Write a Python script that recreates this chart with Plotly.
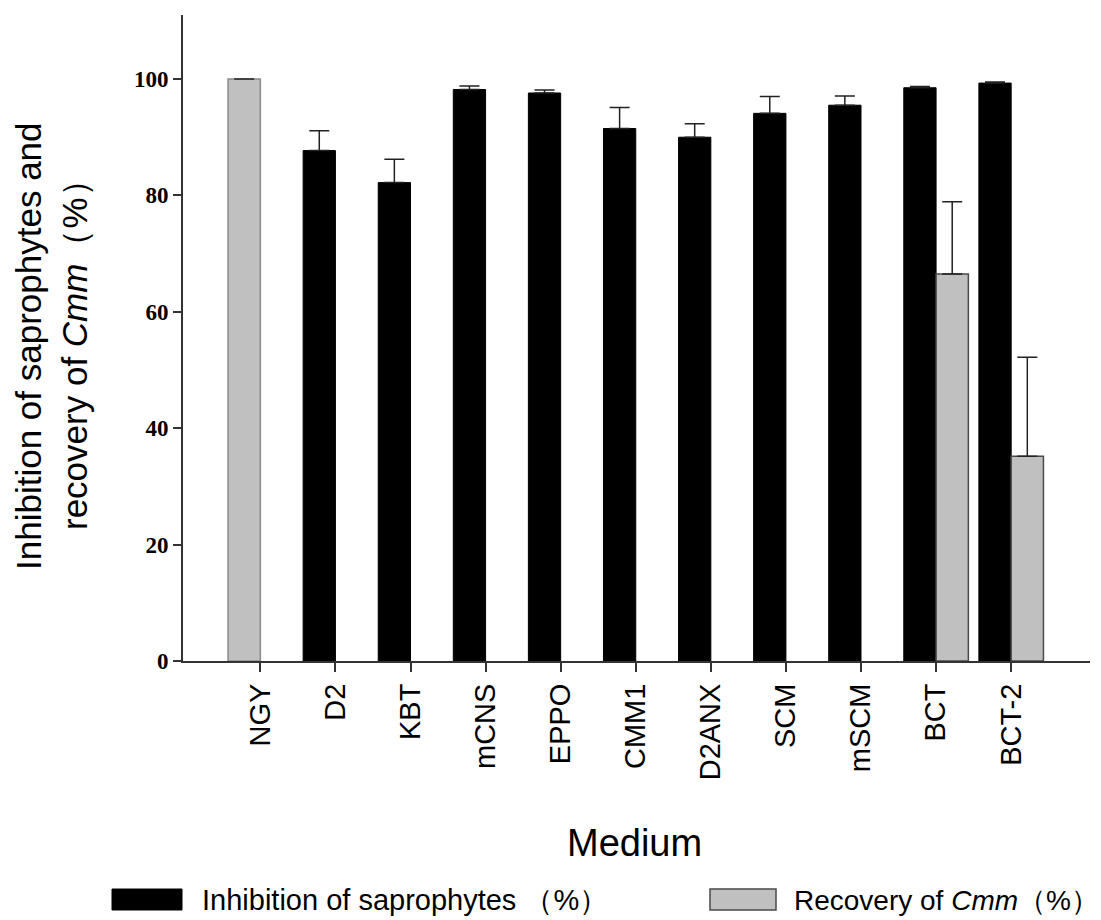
import plotly.graph_objects as go

categories = ["NGY", "D2", "KBT", "mCNS", "EPPO", "CMM1", "D2ANX", "SCM", "mSCM", "BCT", "BCT-2"]
inhibition = [None, 87.7, 82.2, 98.2, 97.6, 91.5, 90.0, 94.1, 95.5, 98.5, 99.3]
inhibition_err = [0, 3.4, 4.0, 0.6, 0.5, 3.6, 2.3, 2.9, 1.6, 0.2, 0.2]
recovery = [100, None, None, None, None, None, None, None, None, 66.5, 35.2]
recovery_err = [0, 0, 0, 0, 0, 0, 0, 0, 0, 12.4, 17.0]
y_ticks = [0, 20, 40, 60, 80, 100]

BW = 0.43
OFF = 8  # page body margin
W, H = 1101, 920
# plot area in page pixels
AX_L, AX_R, AX_T, AX_B = 183, 1090, 15, 661
L, R = AX_L - OFF, W - (AX_R - OFF)
T, B = AX_T - OFF, H - (AX_B - OFF)
PW, PH = W - L - R, H - T - B

def px(x):
    return (x - OFF - L) / PW

def py(y):
    return (H - B - (y - OFF)) / PH

fig = go.Figure()
fig.add_trace(go.Bar(
    x=categories, y=inhibition, width=[BW] * len(categories), offset=[-BW] * len(categories),
    marker=dict(color="black", line=dict(color="black", width=1)),
    error_y=dict(type="data", array=inhibition_err, arrayminus=[0] * len(categories), symmetric=False,
                 color="#222222", thickness=1.5, width=10),
    showlegend=False, name="Inhibition of saprophytes （%）",
))
rec_offset = [-BW] + [0] * (len(categories) - 1)
rec_line = ["#8a8a8a"] + ["#4a4a4a"] * (len(categories) - 1)
fig.add_trace(go.Bar(
    x=categories, y=recovery, width=[BW] * len(categories), offset=rec_offset,
    marker=dict(color="#c0c0c0", line=dict(color=rec_line, width=1.5)),
    error_y=dict(type="data", array=recovery_err, arrayminus=[0] * len(categories), symmetric=False,
                 color="#222222", thickness=1.5, width=10),
    showlegend=False, name="Recovery of Cmm （%）",
))

fig.update_layout(
    width=W, height=H, barmode="overlay",
    margin=dict(l=L, r=R, t=T, b=B),
    plot_bgcolor="white", paper_bgcolor="white",
    font=dict(family="Liberation Sans, Arial", color="black"),
)
fig.update_xaxes(
    range=[-1.03, 11.05], showline=True, linecolor="#333333", linewidth=2,
    ticks="outside", ticklen=9, tickwidth=1.5, tickcolor="#333333",
    tickangle=-90, tickfont=dict(size=29, family="Liberation Sans, Arial"),
    showgrid=False, zeroline=False,
)
fig.update_yaxes(
    range=[0, 111], showline=True, linecolor="#333333", linewidth=2,
    ticks="outside", ticklen=8, tickwidth=1.5, tickcolor="#333333",
    tickvals=y_ticks, tickfont=dict(size=23, family="Liberation Serif, Times New Roman", weight="bold"),
    showgrid=False, zeroline=False,
)

annotations = [
    dict(text="Inhibition of saprophytes and<br>recovery of <i>Cmm</i>（%）", xref="paper", yref="paper",
         x=px(52), y=py(346), xanchor="center", yanchor="middle", textangle=-90,
         showarrow=False, font=dict(size=35, family="Liberation Sans, Arial")),
    dict(text="Medium", xref="paper", yref="paper", x=px(634), y=py(843), xanchor="center", yanchor="middle",
         showarrow=False, font=dict(size=38, family="Liberation Sans, Arial")),
    dict(text="Inhibition of saprophytes （%）", xref="paper", yref="paper", x=px(200), y=py(900),
         xanchor="left", yanchor="middle", showarrow=False, font=dict(size=29, family="Liberation Sans, Arial")),
    dict(text="Recovery of <i>Cmm</i>（%）", xref="paper", yref="paper", x=px(792), y=py(900),
         xanchor="left", yanchor="middle", showarrow=False, font=dict(size=28, family="Liberation Sans, Arial")),
]
shapes = [
    dict(type="rect", xref="paper", yref="paper", x0=px(112), x1=px(182), y0=py(889), y1=py(910),
         fillcolor="black", line=dict(color="black", width=1)),
    dict(type="rect", xref="paper", yref="paper", x0=px(710), x1=px(776), y0=py(889), y1=py(910),
         fillcolor="#c0c0c0", line=dict(color="#4a4a4a", width=1.5)),
]
fig.update_layout(annotations=annotations, shapes=shapes)
fig.write_html("out.html")
